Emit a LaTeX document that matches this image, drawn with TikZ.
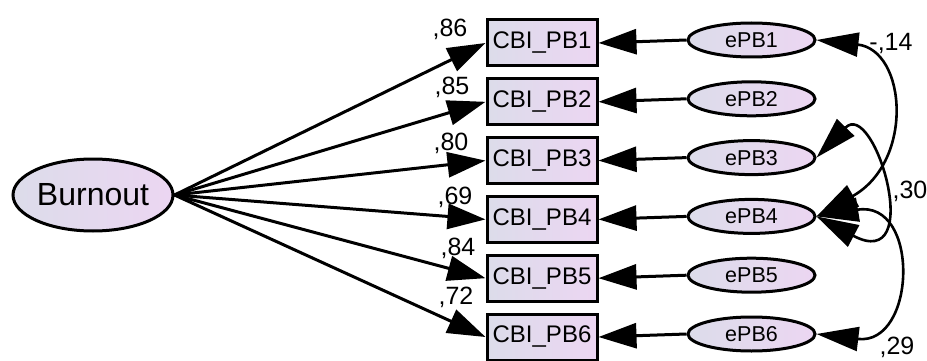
\documentclass[tikz,border=0pt]{standalone}
\usepackage{fontspec}
\setmainfont{Liberation Sans}
\usetikzlibrary{positioning,shapes.geometric,arrows.meta}
\definecolor{shadeLeft}{HTML}{DCDCEA}
\definecolor{shadeRight}{HTML}{ECD6F2}
\newcommand{\coefsize}{\fontsize{25}{29}\selectfont}
\tikzset{
  latentVar/.style={ellipse,draw,line width=3pt,left color=shadeLeft,right color=shadeRight,
    minimum width=160pt,minimum height=72pt,inner sep=0pt,font=\fontsize{32}{37}\selectfont},
  itemBox/.style={rectangle,draw,line width=3pt,left color=shadeLeft,right color=shadeRight,
    minimum width=110pt,minimum height=46pt,inner sep=0pt,font=\fontsize{24}{28}\selectfont},
  errVar/.style={ellipse,draw,line width=3pt,left color=shadeLeft,right color=shadeRight,
    minimum width=127pt,minimum height=34pt,inner sep=0pt,font=\fontsize{21.5}{25}\selectfont},
  path/.style={line width=3pt,-{Triangle[length=38pt,width=25pt]}},
  covPath/.style={line width=2.6pt,{Triangle[length=42pt,width=24pt]}-{Triangle[length=42pt,width=24pt]}},
  coef/.style={font=\coefsize,inner sep=0pt}
}
\begin{document}
\begin{tikzpicture}[x=1pt,y=-1pt]
\useasboundingbox (0,0) rectangle (927,361);
%the latent variable
\node [latentVar] (burnout) at (93,195) {Burnout};
%the items
\node [itemBox] (pb1) at (542,43) {CBI\_PB1};
\node [itemBox,below=9.8pt of pb1] (pb2) {CBI\_PB2};
\node [itemBox,below=9.8pt of pb2] (pb3) {CBI\_PB3};
\node [itemBox,below=9.8pt of pb3] (pb4) {CBI\_PB4};
\node [itemBox,below=9.8pt of pb4] (pb5) {CBI\_PB5};
\node [itemBox,below=9.8pt of pb5] (pb6) {CBI\_PB6};
%the error terms
\node [errVar,right=88pt of pb1,yshift=3pt] (epb1) {ePB1};
\node [errVar,right=88pt of pb2,yshift=3pt] (epb2) {ePB2};
\node [errVar,right=88pt of pb3,yshift=3pt] (epb3) {ePB3};
\node [errVar,right=88pt of pb4,yshift=3pt] (epb4) {ePB4};
\node [errVar,right=88pt of pb5,yshift=3pt] (epb5) {ePB5};
\node [errVar,right=88pt of pb6,yshift=3pt] (epb6) {ePB6};
%loadings
\draw [path] (burnout.east) -- (pb1.west);
\draw [path] (burnout.east) -- (pb2.west);
\draw [path] (burnout.east) -- (pb3.west);
\draw [path] (burnout.east) -- (pb4.west);
\draw [path] (burnout.east) -- (pb5.west);
\draw [path] (burnout.east) -- (pb6.west);
\node [coef] at (450,29) {,86};
\node [coef] at (452,87) {,85};
\node [coef] at (451,143) {,80};
\node [coef] at (455,197) {,69};
\node [coef] at (458,248) {,84};
\node [coef] at (456,297) {,72};
%errors to items
\draw [path] (epb1.west) -- (pb1.east);
\draw [path] (epb2.west) -- (pb2.east);
\draw [path] (epb3.west) -- (pb3.east);
\draw [path] (epb4.west) -- (pb4.east);
\draw [path] (epb5.west) -- (pb5.east);
\draw [path] (epb6.west) -- (pb6.east);
%covariances
\draw [covPath] (epb1.east) .. controls +(90,10) and +(98,-55) .. (epb4.east);
\draw [covPath] (epb3.east) .. controls +(58,-60) and +(110,58) .. (epb4.east);
\draw [covPath] (epb4.east) .. controls +(104,-17) and +(100,12) .. (epb6.east);
\node [coef] at (910,191) {,30};
\node [coef] at (891,43) {-,14};
\node [coef] at (897,347) {,29};
\end{tikzpicture}
\end{document}
